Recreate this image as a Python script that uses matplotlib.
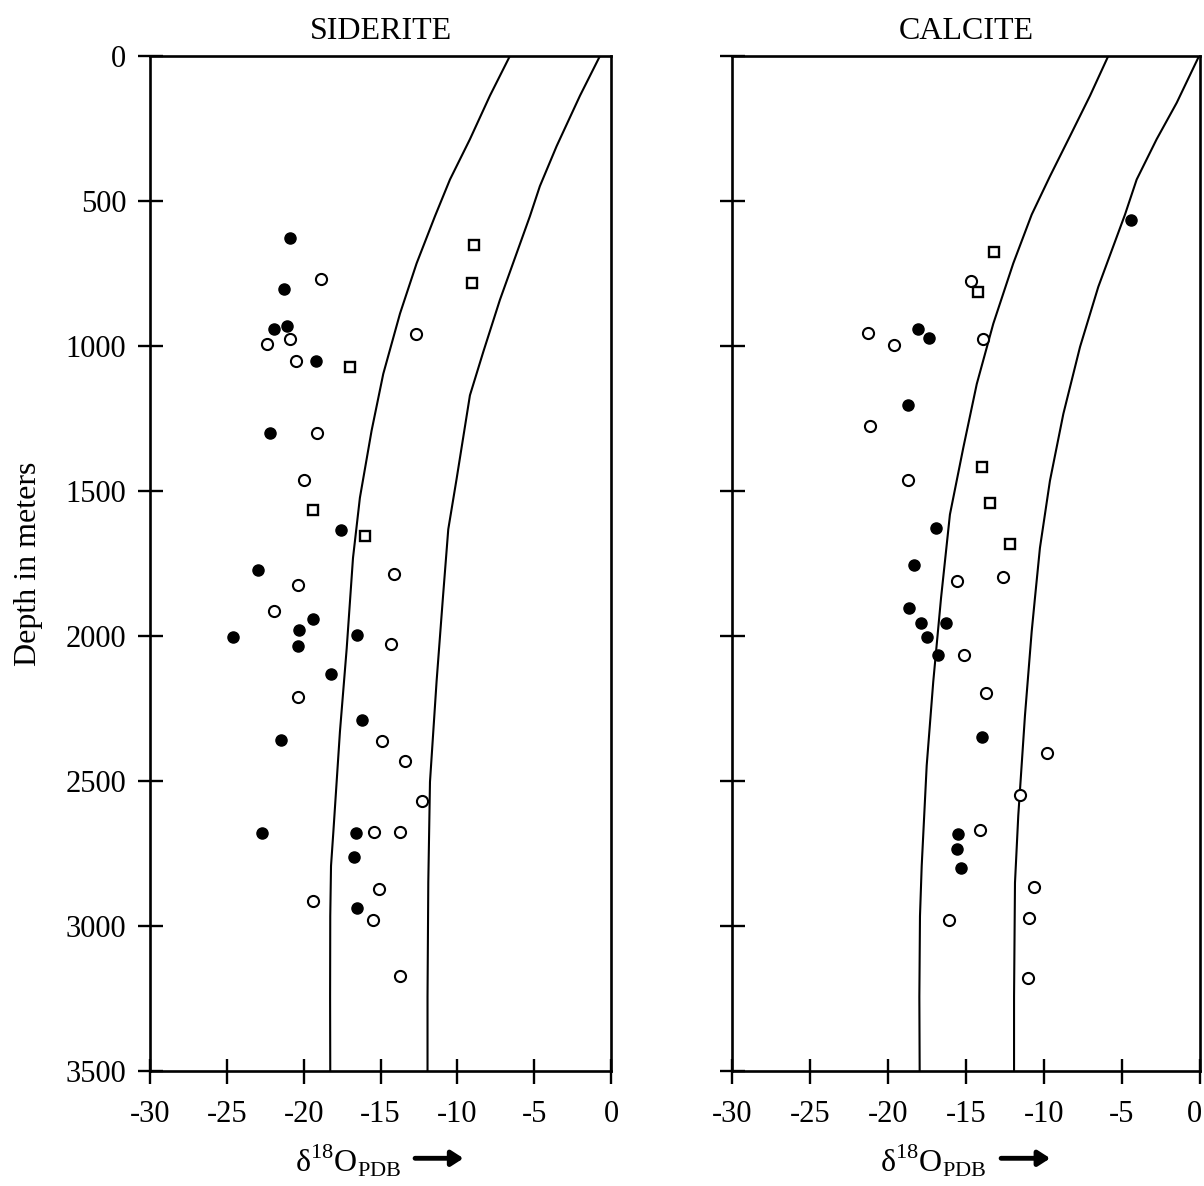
import matplotlib
matplotlib.use("Agg")
import matplotlib.pyplot as plt
import matplotlib.transforms as mtransforms

plt.rcParams["font.family"] = ["Liberation Serif", "DejaVu Serif"]
plt.rcParams["mathtext.fontset"] = "custom"
plt.rcParams["mathtext.rm"] = "Liberation Serif"
plt.rcParams["axes.unicode_minus"] = False

# ---------------- SIDERITE ----------------
sid_filled_d18o = [-20.9, -21.3, -21.9, -21.1, -19.2, -22.2, -17.6, -23.0, -19.4, -20.3,
                   -24.6, -20.4, -16.5, -18.2, -16.2, -21.5, -22.7, -16.6, -16.75, -16.5]
sid_filled_depth = [628, 805, 940, 931, 1050, 1300, 1636, 1774, 1941, 1981,
                    2003, 2035, 1997, 2132, 2288, 2360, 2681, 2679, 2762, 2937]

sid_open_d18o = [-18.9, -22.4, -20.9, -20.5, -12.7, -19.1, -20.0, -14.1, -20.35, -21.9, -14.3,
                 -20.35, -14.9, -13.4, -12.3, -15.4, -13.75, -15.1, -19.4, -15.5, -13.7]
sid_open_depth = [768, 992, 975, 1052, 957, 1299, 1461, 1786, 1823, 1913, 2029,
                  2212, 2361, 2431, 2568, 2677, 2677, 2871, 2915, 2980, 3173]

sid_square_d18o = [-8.9, -9.05, -17.0, -19.4, -16.0]
sid_square_depth = [653, 782, 1073, 1564, 1656]

sid_curve_a_d18o = [-6.58, -7.88, -9.18, -10.48, -11.46, -12.65, -13.73, -14.82, -15.58,
                    -16.34, -16.79, -17.2, -17.64, -18.07, -18.22, -18.27, -18.28, -18.27]
sid_curve_a_depth = [0, 137, 287, 426, 553, 715, 888, 1096, 1292,
                     1523, 1731, 2043, 2330, 2677, 2793, 2966, 3244, 3500]

sid_curve_b_d18o = [-0.72, -2.02, -3.54, -4.63, -5.28, -7.23, -8.31, -9.18, -10.05,
                    -10.59, -10.94, -11.35, -11.78, -11.89, -11.94, -11.94]
sid_curve_b_depth = [0, 137, 311, 449, 553, 841, 1020, 1170, 1459,
                     1632, 1869, 2156, 2503, 2849, 3244, 3500]

# ---------------- CALCITE ----------------
cal_filled_d18o = [-4.4, -18.1, -17.4, -18.75, -16.9, -18.35, -18.65, -17.9, -16.3,
                   -17.5, -16.8, -14.0, -15.5, -15.6, -15.3]
cal_filled_depth = [567, 940, 972, 1203, 1626, 1754, 1903, 1955, 1955,
                    2003, 2067, 2347, 2682, 2734, 2800]

cal_open_d18o = [-14.7, -21.3, -19.6, -13.9, -21.15, -18.7, -15.6, -12.6, -15.1,
                 -13.7, -9.8, -11.55, -14.1, -10.65, -16.1, -10.95, -11.0]
cal_open_depth = [775, 955, 995, 975, 1275, 1461, 1810, 1797, 2064,
                  2195, 2405, 2547, 2670, 2865, 2980, 2974, 3180]

cal_square_d18o = [-13.2, -14.2, -13.95, -13.45, -12.2]
cal_square_depth = [675, 813, 1416, 1540, 1683]

cal_curve_a_d18o = [-5.88, -7.05, -8.33, -9.62, -10.79, -11.97, -13.25, -14.31, -15.17,
                    -16.03, -16.6, -17.1, -17.52, -17.84, -17.95, -17.99, -17.97]
cal_curve_a_depth = [0, 137, 276, 415, 547, 715, 923, 1131, 1350,
                     1581, 1869, 2158, 2447, 2793, 2966, 3244, 3500]

cal_curve_b_d18o = [-0.06, -1.49, -2.78, -4.06, -4.81, -6.52, -7.69, -8.76, -9.62,
                    -10.26, -10.58, -10.79, -11.22, -11.65, -11.86, -11.92, -11.92]
cal_curve_b_depth = [0, 161, 287, 426, 547, 796, 1003, 1234, 1465,
                     1696, 1869, 1985, 2274, 2620, 2851, 3244, 3500]

x_ticks = [-30, -25, -20, -15, -10, -5, 0]
x_tick_labels = ["-30", "-25", "-20", "-15", "-10", "-5", "0"]
y_ticks = [0, 500, 1000, 1500, 2000, 2500, 3000, 3500]
y_tick_labels = ["0", "500", "1000", "1500", "2000", "2500", "3000", "3500"]

W, H = 1204, 1186
fig = plt.figure(figsize=(W / 100, H / 100), dpi=100)
fig.patch.set_facecolor("white")

ax_sid = fig.add_axes([150 / W, 1 - 1071 / H, 461 / W, 1015 / H])
ax_cal = fig.add_axes([732 / W, 1 - 1071 / H, 468 / W, 1015 / H])

panels = [
    (ax_sid, "SIDERITE", sid_filled_d18o, sid_filled_depth, sid_open_d18o, sid_open_depth,
     sid_square_d18o, sid_square_depth, sid_curve_a_d18o, sid_curve_a_depth,
     sid_curve_b_d18o, sid_curve_b_depth, True),
    (ax_cal, "CALCITE", cal_filled_d18o, cal_filled_depth, cal_open_d18o, cal_open_depth,
     cal_square_d18o, cal_square_depth, cal_curve_a_d18o, cal_curve_a_depth,
     cal_curve_b_d18o, cal_curve_b_depth, False),
]

for (ax, title, fx, fy, ox, oy, sx, sy, cax, cay, cbx, cby, show_ylabels) in panels:
    ax.plot(cax, cay, color="black", lw=1.5, zorder=2)
    ax.plot(cbx, cby, color="black", lw=1.5, zorder=2)
    ax.plot(fx, fy, linestyle="none", marker="o", markersize=8,
            markerfacecolor="black", markeredgecolor="black", zorder=3)
    ax.plot(ox, oy, linestyle="none", marker="o", markersize=8, markeredgewidth=1.5,
            markerfacecolor="white", markeredgecolor="black", zorder=3)
    ax.plot(sx, sy, linestyle="none", marker="s", markersize=7, markeredgewidth=1.7,
            markerfacecolor="white", markeredgecolor="black", zorder=3)

    ax.set_xlim(-30, 0)
    ax.set_ylim(3500, 0)
    ax.set_xticks(x_ticks)
    ax.set_xticklabels(x_tick_labels)
    ax.set_yticks(y_ticks)
    if show_ylabels:
        ax.set_yticklabels(y_tick_labels)
        ax.set_ylabel("Depth in meters", fontsize=23, labelpad=16)
    else:
        ax.set_yticklabels([])

    for sp in ax.spines.values():
        sp.set_linewidth(1.9)
        sp.set_color("black")
    ax.tick_params(axis="both", direction="inout", length=18, width=1.7,
                   labelsize=22, colors="black")
    ax.tick_params(axis="x", pad=12)
    ax.tick_params(axis="y", pad=8)

    ax.set_title(title, fontsize=23, pad=12)

    ax.text(0.43, -0.088, r"δ$^{\mathrm{18}}$O$_{\mathrm{PDB}}$", transform=ax.transAxes,
            ha="center", va="center", fontsize=23)
    ax.annotate("", xy=(0.68, -0.086), xytext=(0.575, -0.086),
                xycoords="axes fraction", textcoords="axes fraction",
                arrowprops=dict(arrowstyle="-|>,head_length=0.7,head_width=0.45",
                                lw=3.5, color="black", shrinkA=0, shrinkB=0))

# keep the last tick label of the right panel inside the figure edge
last_label = ax_cal.get_xticklabels()[-1]
last_label.set_transform(last_label.get_transform()
                         + mtransforms.ScaledTranslation(-6 / 100, 0, fig.dpi_scale_trans))

fig.savefig("out.png", dpi=100, facecolor="white")
